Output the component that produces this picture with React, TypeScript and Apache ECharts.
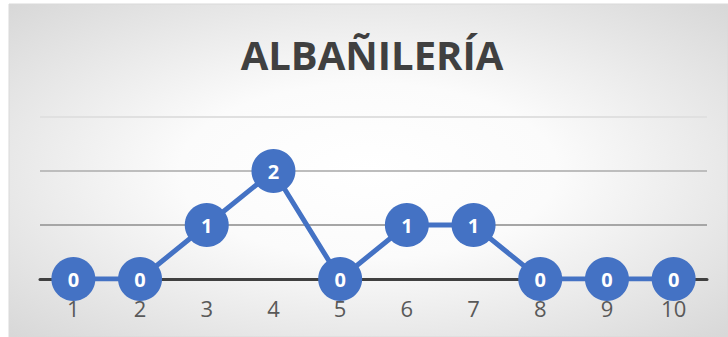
import React, { useEffect, useRef } from "react";
import * as echarts from "echarts";

const categories = ["1", "2", "3", "4", "5", "6", "7", "8", "9", "10"];
const values = [0, 0, 1, 2, 0, 1, 1, 0, 0, 0];
const titleText = "ALBAÑILERÍA";

export default function App() {
  const ref = useRef<HTMLDivElement>(null);
  useEffect(() => {
    if (!ref.current) return;
    const chart = echarts.init(ref.current, null, { renderer: "svg" });
    chart.setOption({
      animation: false,
      graphic: [
        {
          type: "rect",
          z: -10,
          silent: true,
          shape: { x: 9, y: 4, width: 719, height: 333 },
          style: {
            fill: new echarts.graphic.RadialGradient(0.5, 0.5, 1.05, [
              { offset: 0, color: "#ffffff" },
              { offset: 0.25, color: "#fbfbfb" },
              { offset: 1, color: "#bcbcbc" },
            ]),
            stroke: "#d9d9d9",
            lineWidth: 1,
          },
        },
      ],
      title: {
        text: titleText,
        left: 367,
        textAlign: "center",
        top: 29,
        textStyle: {
          fontFamily: "Open Sans",
          fontSize: 40,
          fontWeight: "bold",
          color: "#404040",
        },
      },
      grid: { left: 40, right: 21, top: 117, bottom: 58, containLabel: false },
      xAxis: {
        type: "category",
        data: categories,
        boundaryGap: true,
        axisLine: { show: true, lineStyle: { color: "#404040", width: 3 } },
        axisTick: { show: false },
        axisLabel: {
          margin: 18,
          fontFamily: "Open Sans",
          fontSize: 22,
          color: "#595959",
        },
        splitLine: { show: false },
        z: 1,
      },
      yAxis: {
        type: "value",
        min: 0,
        max: 3,
        interval: 1,
        axisLine: { show: false },
        axisTick: { show: false },
        axisLabel: { show: false },
        splitLine: {
          show: true,
          lineStyle: {
            color: ["#404040", "#a6a6a6", "#bdbdbd", "#e0e0e0"],
            width: 2,
          },
        },
      },
      series: [
        {
          type: "line",
          data: values,
          symbol: "circle",
          symbolSize: 44,
          lineStyle: { color: "#4472C4", width: 5 },
          itemStyle: { color: "#4472C4" },
          z: 5,
          label: {
            show: true,
            position: "inside",
            color: "#ffffff",
            fontFamily: "Open Sans",
            fontWeight: "bold",
            fontSize: 20,
          },
        },
      ],
    });
    return () => chart.dispose();
  }, []);
  return (
    <div
      ref={ref}
      style={{ position: "absolute", left: 0, top: 0, width: 728, height: 337 }}
    />
  );
}
